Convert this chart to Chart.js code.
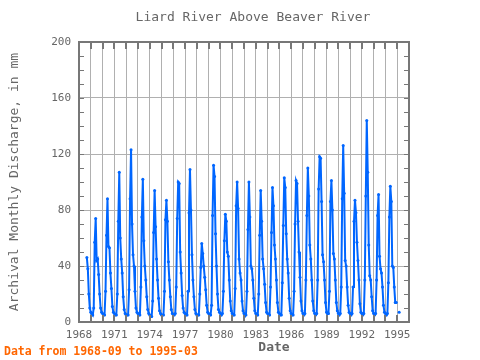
<!DOCTYPE html>
<html>
<head>
<meta charset="utf-8">
<script src="https://cdn.jsdelivr.net/npm/chart.js@4"></script>
<style>
  html, body { margin: 0; padding: 0; background: #fff; }
  #wrap { width: 480px; height: 360px; }
</style>
</head>
<body>
<div id="wrap"><canvas id="chart" width="480" height="360"></canvas></div>
<script>
// monthly discharge (mm), first value is 1968-09
const startYear = 1968;
const startMonth = 9;
const discharge = [
  46, 38, 20, 10,                                    // 1968
  7, 6, 5, 10, 57, 74, 44, 45, 34, 20, 10, 7,        // 1969
  6, 5, 5, 22, 62, 88, 54, 53, 35, 24, 11, 7,        // 1970
  6, 5, 5, 20, 72, 107, 60, 45, 35, 18, 9, 6,        // 1971
  5, 5, 5, 23, 88, 123, 70, 48, 40, 22, 10, 7,       // 1972
  6, 5, 5, 25, 75, 102, 58, 40, 30, 18, 9, 6,        // 1973
  5, 4, 4, 15, 64, 94, 68, 45, 30, 17, 8, 6,         // 1974
  5, 5, 5, 22, 73, 87, 72, 43, 30, 18, 9, 6,         // 1975
  5, 5, 6, 25, 74, 100, 99, 50, 35, 19, 10, 7,       // 1976
  6, 5, 5, 22, 78, 109, 80, 48, 30, 18, 9, 6,        // 1977
  5, 5, 5, 20, 39, 56, 49, 40, 32, 23, 12, 7,        // 1978
  6, 5, 5, 12, 76, 112, 104, 63, 40, 20, 9, 7,       // 1979
  6, 5, 6, 22, 58, 77, 72, 50, 47, 30, 15, 8,        // 1980
  6, 5, 5, 24, 83, 100, 81, 45, 35, 30, 15, 8,       // 1981
  6, 5, 5, 22, 66, 100, 75, 40, 38, 30, 17, 8,       // 1982
  6, 5, 5, 20, 62, 94, 72, 45, 38, 27, 14, 7,        // 1983
  6, 5, 5, 25, 64, 96, 83, 55, 45, 30, 14, 7,        // 1984
  6, 5, 5, 28, 69, 103, 96, 63, 45, 35, 17, 8,       // 1985
  6, 5, 5, 22, 70, 101, 99, 72, 50, 32, 15, 8,       // 1986
  6, 5, 6, 30, 76, 110, 90, 55, 45, 30, 15, 8,       // 1987
  6, 5, 6, 30, 95, 118, 117, 86, 48, 43, 30, 14,     // 1988
  7, 6, 6, 22, 86, 101, 80, 49, 45, 30, 14, 8,       // 1989
  6, 5, 6, 25, 88, 126, 92, 44, 40, 25, 12, 7,       // 1990
  6, 5, 6, 25, 72, 87, 78, 57, 44, 30, 13, 7,        // 1991
  6, 5, 6, 30, 90, 144, 107, 55, 33, 30, 18, 8,      // 1992
  6, 5, 6, 30, 76, 91, 47, 38, 35, 25, 12, 7,        // 1993
  6, 5, 6, 28, 75, 97, 86, 40, 39, 25, 14, 14,       // 1994
  null, null, 7                                      // 1995
];
const xLabelYears = [1968, 1971, 1974, 1977, 1980, 1983, 1986, 1989, 1992, 1995];
const yTicks = [0, 40, 80, 120, 160, 200];

const points = discharge.map((v, i) => {
  const m = startMonth - 1 + i;
  return { x: startYear + Math.floor(m / 12) + (m % 12) / 12, y: v };
});

const textColor = '#666';
const mono = '"DejaVu Sans Mono", "Liberation Mono", monospace';

// frame, inner tick marks and the titles
const decorations = {
  id: 'decorations',
  afterDraw(chart) {
    const { ctx, chartArea: a, scales } = chart;
    ctx.save();
    ctx.strokeStyle = '#777';
    ctx.lineWidth = 2;
    ctx.beginPath();
    for (let yr = 1969; yr < 1996; yr++) {
      const px = Math.round(scales.x.getPixelForValue(yr));
      ctx.moveTo(px, a.top); ctx.lineTo(px, a.top + 7);
      ctx.moveTo(px, a.bottom); ctx.lineTo(px, a.bottom - 7);
    }
    ctx.stroke();
    ctx.lineWidth = 1;
    ctx.beginPath();
    for (let v = 10; v < 200; v += 10) {
      const py = Math.round(scales.y.getPixelForValue(v)) + 0.5;
      ctx.moveTo(a.left, py); ctx.lineTo(a.left + 5, py);
      ctx.moveTo(a.right, py); ctx.lineTo(a.right - 5, py);
    }
    ctx.stroke();
    ctx.lineWidth = 2;
    ctx.strokeRect(a.left, a.top, a.right - a.left, a.bottom - a.top);

    ctx.fillStyle = textColor;
    ctx.textAlign = 'center';
    ctx.textBaseline = 'middle';
    ctx.font = '13px ' + mono;
    ctx.fillText('Liard River Above Beaver River', 253, 18);
    ctx.font = 'bold 13px ' + mono;
    ctx.fillText('Date', 274, 348);

    ctx.save();
    ctx.translate(15, 182);
    ctx.rotate(-Math.PI / 2);
    ctx.font = '13px ' + mono;
    ctx.fillText('Archival Monthly Discharge, in mm', 0, 0);
    ctx.restore();

    ctx.fillStyle = '#ff6600';
    ctx.textAlign = 'left';
    ctx.font = 'bold 11.5px ' + mono;
    ctx.fillText('Data from 1968-09 to 1995-03', 4, 352);
    ctx.restore();
  }
};

new Chart(document.getElementById('chart'), {
  type: 'line',
  data: {
    datasets: [{
      data: points,
      borderColor: '#0066ff',
      backgroundColor: '#0066ff',
      borderWidth: 2,
      pointRadius: 1.5,
      pointBorderWidth: 0,
      pointBackgroundColor: '#0066ff',
      spanGaps: false,
      tension: 0
    }]
  },
  options: {
    responsive: false,
    animation: false,
    layout: { padding: { top: 42, right: 71, left: 0, bottom: 0 } },
    plugins: { legend: { display: false }, tooltip: { enabled: false } },
    scales: {
      x: {
        type: 'linear',
        min: 1968,
        max: 1996,
        afterFit(s) { s.height = 38; },
        border: { display: false },
        grid: { color: '#b0b0b0', lineWidth: 1, drawTicks: false },
        ticks: {
          stepSize: 1,
          autoSkip: false,
          maxRotation: 0,
          padding: 7,
          color: textColor,
          font: { family: mono, size: 11 },
          callback: v => xLabelYears.includes(v) ? String(v) : ''
        }
      },
      y: {
        min: 0,
        max: 200,
        afterFit(s) { s.width = 79; },
        afterBuildTicks(s) { s.ticks = yTicks.map(v => ({ value: v })); },
        border: { display: false },
        grid: { color: '#b0b0b0', lineWidth: 1, drawTicks: false },
        ticks: {
          padding: 8,
          color: textColor,
          font: { family: mono, size: 11 }
        }
      }
    }
  },
  plugins: [decorations]
});
</script>
</body>
</html>
